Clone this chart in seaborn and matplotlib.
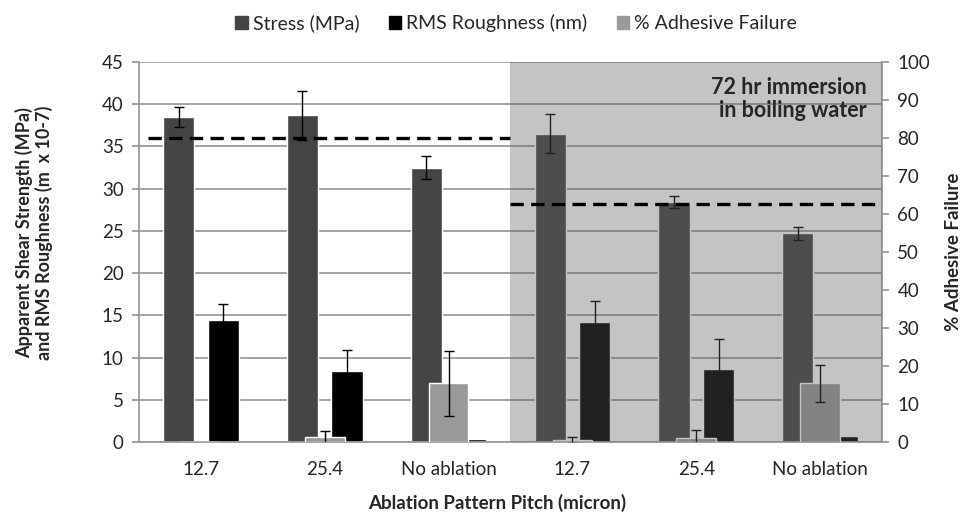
import numpy as np
import pandas as pd
import seaborn as sns
from matplotlib import pyplot as plt
from matplotlib.patches import Patch

# data
conditions = ["dry", "dry", "dry", "boil", "boil", "boil"]
pitch_labels = ["12.7", "25.4", "No ablation", "12.7", "25.4", "No ablation"]
stress = [38.5, 38.7, 32.5, 36.5, 28.4, 24.7]
stress_err = [1.2, 2.9, 1.4, 2.3, 0.7, 0.8]
rms = [14.5, 8.4, 0.4, 14.2, 8.7, 0.7]
rms_err = [1.9, 2.5, np.nan, 2.55, 3.5, np.nan]
adhesive = [0.0, 1.2, 15.4, 0.5, 1.0, 15.4]
adhesive_err = [np.nan, 1.7, 8.5, 0.8, 2.2, 4.8]
mean_stress = {"dry": 36.0, "boil": 28.15}

series_names = ["Stress (MPa)", "RMS Roughness (nm)", "% Adhesive Failure"]
colors = ["#444444", "#000000", "#999999"]
grid_c = "#9c9c9c"

keys = [f"{c}|{p}" for c, p in zip(conditions, pitch_labels)]
df = pd.DataFrame({
    "key": keys * 2,
    "series": [series_names[0]] * 6 + [series_names[1]] * 6,
    "value": stress + rms,
})

sns.set_style("white")
plt.rcParams["font.family"] = ["Lato", "DejaVu Sans"]

fig = plt.figure(figsize=(9.63, 5.12), dpi=100)
ax = fig.add_axes([0.1443, 0.1367, 0.7716, 0.7422])

sns.barplot(data=df, x="key", y="value", hue="series", hue_order=series_names[:2],
            palette=colors[:2], width=0.72, gap=0.3, saturation=1, errorbar=None,
            legend=False, ax=ax, zorder=2)

for cont, errs in zip(ax.containers, [stress_err, rms_err]):
    for bar, e in zip(cont, errs):
        if np.isnan(e):
            continue
        ax.errorbar(bar.get_x() + bar.get_width() / 2, bar.get_height(), yerr=e,
                    color="black", lw=1, capsize=3.6, capthick=1, zorder=3)

ax2 = ax.twinx()
sns.barplot(x=keys, y=adhesive, color=colors[2], width=0.32, saturation=1,
            errorbar=None, ax=ax2, zorder=2)
for bar, e in zip(ax2.containers[0], adhesive_err):
    if np.isnan(e):
        continue
    ax2.errorbar(bar.get_x() + bar.get_width() / 2, bar.get_height(), yerr=e,
                 color="black", lw=1, capsize=3.6, capthick=1, zorder=3)

# grey overlay for the boiled samples
n_dry = conditions.count("dry")
ax2.axvspan(n_dry - 0.5, len(keys) - 0.5, color="#5d5d5d", alpha=0.365, lw=0, zorder=5)

# dashed mean stress lines
for i, cond in enumerate(["dry", "boil"]):
    x0 = -0.43 if i == 0 else n_dry - 0.5
    x1 = n_dry - 0.5 if i == 0 else len(keys) - 0.56
    ax2.plot([x0, x1], [mean_stress[cond]] * 2, transform=ax.transData,
             color="black", lw=2.4, ls=(0, (4, 2.2)), zorder=8)

ax2.text(0.979, 0.903, "72 hr immersion\nin boiling water", transform=ax.transAxes,
         ha="right", va="center", fontsize=15.5, fontweight="bold", linespacing=1.1,
         zorder=9)

ax.set_xlim(-0.5, len(keys) - 0.5)
ax.set_ylim(0, 45)
ax2.set_ylim(0, 100)
ax.set_yticks(np.arange(0, 46, 5))
ax2.set_yticks(np.arange(0, 101, 10))
ax.set_xticks(range(len(keys)))
ax.set_xticklabels(pitch_labels)
ax.set_xticks(np.arange(-0.5, len(keys)), minor=True)

ax.grid(axis="y", color=grid_c, lw=1.3)
ax.set_axisbelow(True)
ax.tick_params(axis="x", which="major", length=0, pad=14, labelsize=13.5)
ax.tick_params(axis="x", which="minor", length=5, width=1.3, color=grid_c)
ax.tick_params(axis="y", length=5, width=1.3, color=grid_c, pad=6, labelsize=13.5,
               left=True)
ax2.tick_params(axis="y", length=5, width=1.3, color=grid_c, pad=6, labelsize=13.5,
                right=True)

for s in ["top", "right"]:
    ax.spines[s].set_visible(False)
for s in ["left", "bottom"]:
    ax.spines[s].set_color(grid_c)
    ax.spines[s].set_linewidth(1.3)
for s in ["top", "left", "bottom"]:
    ax2.spines[s].set_visible(False)
ax2.spines["right"].set_color(grid_c)
ax2.spines["right"].set_linewidth(1.3)

ax.set_ylabel("Apparent Shear Strength (MPa)\nand RMS Roughness (m  x 10-7)",
              fontsize=13, fontweight="bold", linespacing=1.15)
ax.yaxis.label.set_va("center")
ax.yaxis.set_label_coords(-0.141, 0.55)
ax.set_xlabel("Ablation Pattern Pitch (micron)", fontsize=13.5, fontweight="bold")
ax.xaxis.label.set_va("center")
ax.xaxis.set_label_coords(0.482, -0.16)
ax2.set_ylabel("% Adhesive Failure", fontsize=13.5, fontweight="bold")
ax2.yaxis.label.set_va("center")
ax2.yaxis.set_label_coords(1.096, 0.5)

handles = [Patch(color=c) for c in colors]
fig.legend(handles, series_names, loc="center", bbox_to_anchor=(0.536, 0.955),
           ncol=3, frameon=False, fontsize=14, handlelength=0.65, handleheight=0.65,
           handletextpad=0.25, columnspacing=1.5)

plt.savefig("out.png", dpi=100)
plt.close()
